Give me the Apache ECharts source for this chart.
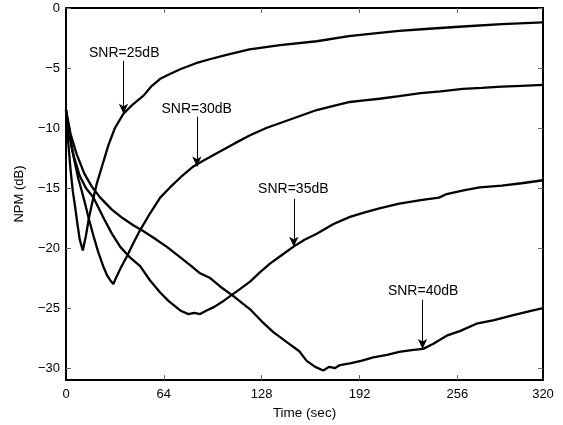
<!DOCTYPE html>
<html>
<head>
<meta charset="utf-8">
<script src="https://cdn.jsdelivr.net/npm/echarts@6/dist/echarts.min.js"></script>
<style>
  html, body { margin: 0; padding: 0; background: #fff; }
  #main { width: 563px; height: 425px; }
</style>
</head>
<body>
<div id="main"></div>
<script>
// 曲线数据 [time, NPM]
const snr25 = [[0,-8.5],[1,-10.5],[2,-12],[3,-13.5],[4.5,-15.3],[6,-16.6],[7.5,-18],[9,-19.3],[11,-20.2],
  [13,-19],[15,-17.5],[17,-16.3],[20,-14.7],[24,-13],[27.8,-11.4],[32,-10],[37.6,-8.8],[44,-8],[50.7,-7.3],
  [56,-6.5],[61.6,-5.9],[68,-5.5],[74.7,-5.1],[85,-4.6],[94,-4.27],[105,-3.9],[120,-3.45],[140,-3.1],
  [164,-2.77],[185,-2.35],[205,-2.08],[218,-1.9],[235,-1.75],[259.5,-1.54],[285,-1.35],[312,-1.2]];

const snr30 = [[0,-8.5],[2,-10.3],[4,-11.8],[6,-13],[8,-14.2],[10,-15.1],[12.5,-16.3],[15,-17.6],[18,-19],
  [21,-20.3],[24.6,-21.6],[27,-22.3],[29,-22.7],[31,-23],[33,-22.4],[36,-21.6],[39.8,-20.7],[44,-19.6],
  [48.5,-18.5],[55,-17.1],[61.6,-15.8],[68,-14.95],[75,-14.1],[83.3,-13.2],[90,-12.7],[98.6,-12.1],
  [110,-11.3],[120.4,-10.6],[131,-10],[142,-9.5],[153,-9],[164,-8.5],[175,-8.15],[185.7,-7.83],
  [195,-7.7],[205,-7.56],[218,-7.35],[232,-7.1],[245,-6.95],[259.5,-6.74],[272,-6.65],[285,-6.55],
  [298,-6.48],[312,-6.41]];

const snr35 = [[0,-8.5],[2,-10.5],[5,-12.3],[9,-14],[13,-15],[18,-15.8],[25,-17.6],[30,-18.8],[35.5,-19.9],
  [42,-20.8],[48.5,-21.5],[55,-22.7],[61.6,-23.7],[67,-24.4],[74.7,-25.2],[80,-25.5],[84,-25.4],
  [87.7,-25.5],[92,-25.2],[97,-24.9],[102,-24.5],[107.3,-24],[114,-23.4],[120.4,-22.8],[127,-22],
  [133.4,-21.3],[141,-20.6],[148.6,-19.9],[156,-19.3],[164,-18.8],[175,-18],[185.7,-17.4],[196,-17],
  [205,-16.7],[218,-16.3],[232,-16],[244,-15.8],[249,-15.5],[260,-15.2],[270.6,-14.95],[285,-14.8],
  [298,-14.6],[312,-14.35]];

const snr40 = [[0,-8.5],[3,-10.5],[7,-12.2],[12,-13.8],[17,-14.9],[22.4,-15.8],[30,-16.8],[37,-17.5],
  [44,-18.1],[50.7,-18.6],[58,-19.2],[66,-19.9],[75,-20.8],[82,-21.5],[87.7,-22.1],[94.3,-22.5],
  [100.8,-23.2],[109.5,-24],[120.4,-25.1],[128,-26.1],[135.6,-27],[144,-27.8],[152.6,-28.6],
  [157.4,-29.4],[163,-29.9],[168.3,-30.2],[172,-29.9],[176,-30],[179.2,-29.75],[185.7,-29.6],
  [193,-29.4],[201,-29.1],[210,-28.9],[218,-28.65],[226,-28.5],[233.6,-28.4],[240,-28],[249,-27.3],
  [258,-26.9],[268.5,-26.3],[280,-26],[292,-25.6],[302,-25.3],[312,-25]];

// 注释：文字、位置、箭头
const annotText = ['SNR=25dB', 'SNR=30dB', 'SNR=35dB', 'SNR=40dB'];
const annotTextX = [38.1, 85.5, 148.7, 233.6];
const annotTextY = [-3.75, -8.4, -15.1, -23.6];
const arrowX = [37.6, 85.6, 149, 233.2];
const arrowTop = [-4.4, -9.06, -15.9, -24.3];
const arrowTip = [-8.8, -13.2, -19.9, -28.4];

// 刻度
const xTickPos = [0, 64, 128, 192, 256, 312];
const xTickLabels = ['0', '64', '128', '192', '256', '320'];
const yTickPos = [-30, -25, -20, -15, -10, -5, 0];

const font = 'Liberation Sans, Arial, sans-serif';
const myChart = echarts.init(document.getElementById('main'));

const arrows = arrowX.map((x, i) => [
  { coord: [x, arrowTop[i]] },
  { coord: [x, arrowTip[i]] }
]);
const labels = annotText.map((t, i) => ({
  coord: [annotTextX[i], annotTextY[i]],
  label: { formatter: t }
}));

function curve(data, extra) {
  return Object.assign({
    type: 'line',
    data: data,
    showSymbol: false,
    symbol: 'none',
    smooth: false,
    lineStyle: { color: '#000', width: 2.3 },
    itemStyle: { color: '#000' },
    animation: false,
    z: 3
  }, extra || {});
}

const xBase = {
  type: 'value',
  min: 0,
  max: 312,
  axisLine: { show: true, onZero: false, lineStyle: { color: '#000', width: 2 } },
  axisTick: { show: true, inside: true, length: 5, customValues: xTickPos.slice(1, -1), lineStyle: { color: '#666', width: 1 } },
  splitLine: { show: false }
};
const yBase = {
  type: 'value',
  min: -31,
  max: 0,
  axisLine: { show: true, onZero: false, lineStyle: { color: '#000', width: 2 } },
  axisTick: { show: true, inside: true, length: 5, customValues: yTickPos, lineStyle: { color: '#666', width: 1 } },
  splitLine: { show: false }
};

const option = {
  backgroundColor: '#fff',
  animation: false,
  grid: { left: 66, right: 20, top: 8, bottom: 41 },
  xAxis: [
    Object.assign({}, xBase, {
      position: 'bottom',
      name: 'Time (sec)',
      nameLocation: 'middle',
      nameGap: 22,
      nameTextStyle: { fontFamily: font, fontSize: 13.5, color: '#000' },
      axisLabel: {
        show: true,
        customValues: xTickPos,
        margin: 8,
        fontFamily: font,
        fontSize: 13,
        color: '#000',
        formatter: v => xTickLabels[xTickPos.indexOf(v)]
      }
    }),
    Object.assign({}, xBase, { position: 'top', axisLabel: { show: false } })
  ],
  yAxis: [
    Object.assign({}, yBase, {
      position: 'left',
      name: 'NPM (dB)',
      nameLocation: 'middle',
      nameRotate: 90,
      nameGap: 40,
      nameTextStyle: { fontFamily: font, fontSize: 13, color: '#000' },
      axisLabel: {
        show: true,
        customValues: yTickPos,
        margin: 6,
        fontFamily: font,
        fontSize: 13,
        color: '#000',
        formatter: v => String(v).replace('-', '\u2212')
      }
    }),
    Object.assign({}, yBase, { position: 'right', axisLabel: { show: false } })
  ],
  series: [
    curve(snr25, {
      markLine: {
        silent: true,
        animation: false,
        symbol: ['none', 'arrow'],
        symbolSize: [7, 10],
        label: { show: false },
        lineStyle: { color: '#000', width: 1, type: 'solid' },
        data: arrows
      },
      markPoint: {
        silent: true,
        animation: false,
        symbol: 'circle',
        symbolSize: 1,
        itemStyle: { color: 'rgba(0,0,0,0)' },
        label: {
          show: true,
          position: 'inside',
          fontFamily: font,
          fontSize: 14,
          color: '#000'
        },
        data: labels
      }
    }),
    curve(snr30),
    curve(snr35),
    curve(snr40)
  ]
};
// 使用刚指定的配置项和数据显示图表。
myChart.setOption(option);
</script>
</body>
</html>
